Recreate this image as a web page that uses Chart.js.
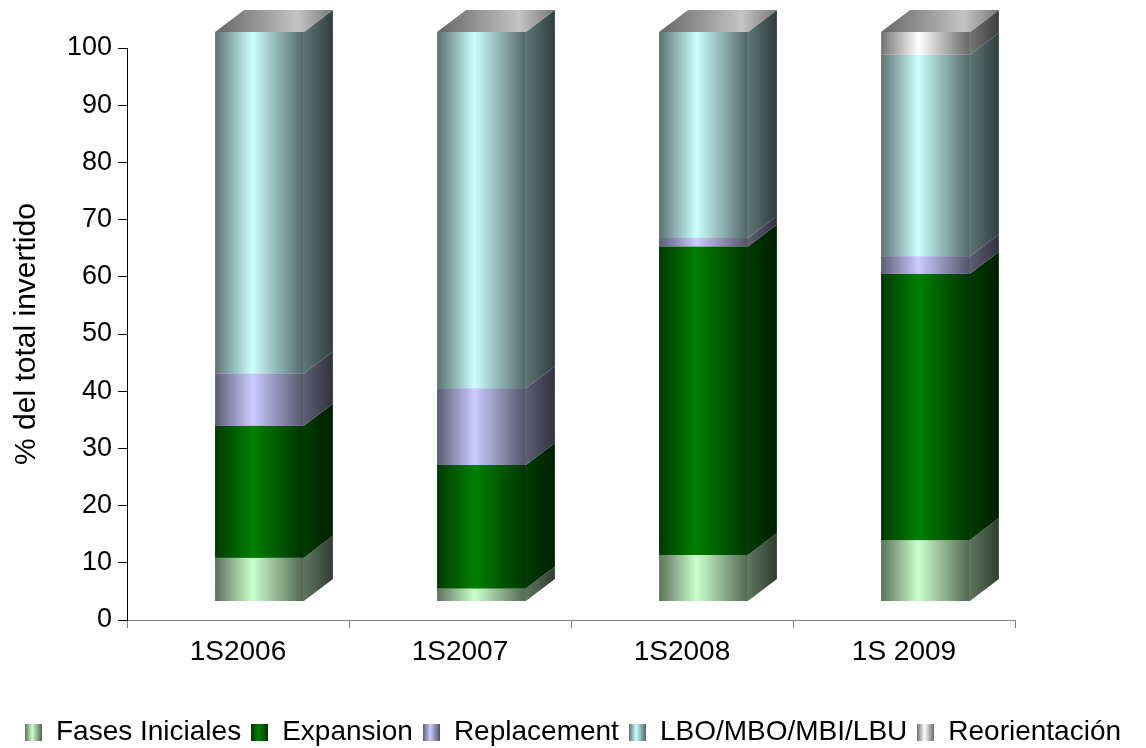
<!DOCTYPE html>
<html>
<head>
<meta charset="utf-8">
<script src="https://cdn.jsdelivr.net/npm/chart.js@4"></script>
<style>
html, body { margin: 0; padding: 0; overflow: hidden; background: #fff; }
#caixa { width: 1146px; height: 756px; }
</style>
</head>
<body>
<div id="caixa"><canvas id="grafico"></canvas></div>
<script>
const categorias = ['1S2006', '1S2007', '1S2008', '1S 2009'];
const fasesIniciales = [7.6, 2.2, 8.1, 10.7];
const expansion = [23.2, 21.7, 54.2, 46.8];
const replacement = [9.2, 13.5, 1.5, 3.1];
const lbo = [60.0, 62.6, 36.2, 35.4];
const reorientacion = [0, 0, 0, 4.0];

const nomes = ['Fases Iniciales', 'Expansion', 'Replacement', 'LBO/MBO/MBI/LBU', 'Reorientación'];
const series = [fasesIniciales, expansion, replacement, lbo, reorientacion];
const cores = [[204, 255, 204], [0, 128, 0], [204, 204, 255], [204, 255, 255], [255, 255, 255]];

// deslocamento do efeito 3D
const DX = 21.5, PROF_X = 29, PROF_Y = 22;

Chart.defaults.font.family = "'Liberation Sans', Arial, sans-serif";

const tom = (c, f) => `rgb(${Math.round(c[0] * f)},${Math.round(c[1] * f)},${Math.round(c[2] * f)})`;

const gradFrente = (ctx, c, x0, x1) => {
    const g = ctx.createLinearGradient(x0, 0, x1, 0);
    g.addColorStop(0, tom(c, 0.45));
    g.addColorStop(0.42, tom(c, 1));
    g.addColorStop(1, tom(c, 0.4));
    return g;
};

const marcador = (c) => {
    const cv = document.createElement('canvas');
    cv.width = 17; cv.height = 17;
    const cx = cv.getContext('2d');
    cx.fillStyle = gradFrente(cx, c, 0, 17);
    cx.fillRect(0, 0, 17, 17);
    return cv;
};
const marcadores = cores.map(marcador);

const barras3d = {
    id: 'barras3d',
    beforeDatasetsDraw(chart) {
        chart.ctx.save();
        chart.ctx.translate(DX, 0);
    },
    afterDatasetsDraw(chart) {
        const ctx = chart.ctx;
        const topos = [];
        chart.data.datasets.forEach((ds, i) => {
            const meta = chart.getDatasetMeta(i);
            const c = cores[i];
            meta.data.forEach((bar, j) => {
                const { x, y, base, width } = bar.getProps(['x', 'y', 'base', 'width'], true);
                if (base - y < 0.5) return;
                const l = x - width / 2, r = x + width / 2;
                ctx.fillStyle = gradFrente(ctx, c, l, r);
                ctx.fillRect(l, y, width, base - y);
                const gl = ctx.createLinearGradient(r, 0, r + PROF_X, 0);
                gl.addColorStop(0, tom(c, 0.46));
                gl.addColorStop(1, tom(c, 0.24));
                ctx.fillStyle = gl;
                ctx.beginPath();
                ctx.moveTo(r, y);
                ctx.lineTo(r + PROF_X, y - PROF_Y);
                ctx.lineTo(r + PROF_X, base - PROF_Y);
                ctx.lineTo(r, base);
                ctx.closePath();
                ctx.fill();
                if (!topos[j] || y < topos[j].y) topos[j] = { y, l, r };
            });
        });
        topos.forEach(t => {
            if (!t) return;
            const g = ctx.createLinearGradient(t.l, 0, t.r + PROF_X, 0);
            g.addColorStop(0, '#666');
            g.addColorStop(0.7, '#c4c4c4');
            g.addColorStop(1, '#777');
            ctx.fillStyle = g;
            ctx.beginPath();
            ctx.moveTo(t.l, t.y);
            ctx.lineTo(t.l + PROF_X, t.y - PROF_Y);
            ctx.lineTo(t.r + PROF_X, t.y - PROF_Y);
            ctx.lineTo(t.r, t.y);
            ctx.closePath();
            ctx.fill();
        });
        ctx.restore();
    }
};

new Chart(document.getElementById('grafico'), {
    type: 'bar',
    data: {
        labels: categorias,
        datasets: series.map((d, i) => ({
            label: nomes[i],
            data: d,
            backgroundColor: tom(cores[i], 1),
            borderWidth: 0,
            yAxisID: 'yb',
            clip: false,
            barPercentage: 0.4,
            categoryPercentage: 1
        }))
    },
    options: {
        responsive: true,
        maintainAspectRatio: false,
        animation: false,
        layout: { padding: { top: 48, left: 0, right: 0, bottom: 0 } },
        plugins: {
            legend: {
                position: 'bottom',
                labels: {
                    usePointStyle: true,
                    boxWidth: 17,
                    boxHeight: 17,
                    padding: 10,
                    color: '#000',
                    font: { size: 28 },
                    generateLabels: (chart) => chart.data.datasets.map((ds, i) => ({
                        text: ds.label,
                        pointStyle: marcadores[i],
                        fillStyle: ds.backgroundColor,
                        strokeStyle: 'transparent',
                        lineWidth: 0,
                        hidden: false,
                        datasetIndex: i,
                        fontColor: '#000'
                    }))
                }
            },
            tooltip: { enabled: false }
        },
        scales: {
            x: {
                stacked: true,
                grid: { offset: true, drawOnChartArea: false, tickLength: 8, tickColor: '#808080' },
                border: { color: '#808080' },
                ticks: { color: '#000', font: { size: 28 }, padding: 7, maxRotation: 0 },
                afterFit: (s) => { s.height = 88; }
            },
            y: {
                position: 'left',
                min: 0,
                max: 100,
                ticks: { stepSize: 10, color: '#000', font: { size: 27 }, padding: 6 },
                grid: { drawOnChartArea: false, tickLength: 9, tickColor: '#000' },
                border: { color: '#000' },
                title: { display: true, text: '% del total invertido', color: '#000', font: { size: 30 }, padding: { top: 9 } },
                afterFit: (s) => { s.width = 127; }
            },
            yb: {
                position: 'right',
                stacked: true,
                min: -3.339,
                max: 97.188,
                bounds: 'data',
                ticks: { display: false },
                grid: { display: false },
                border: { display: false },
                afterFit: (s) => { s.width = 131; }
            }
        }
    },
    plugins: [barras3d]
});
</script>
</body>
</html>
